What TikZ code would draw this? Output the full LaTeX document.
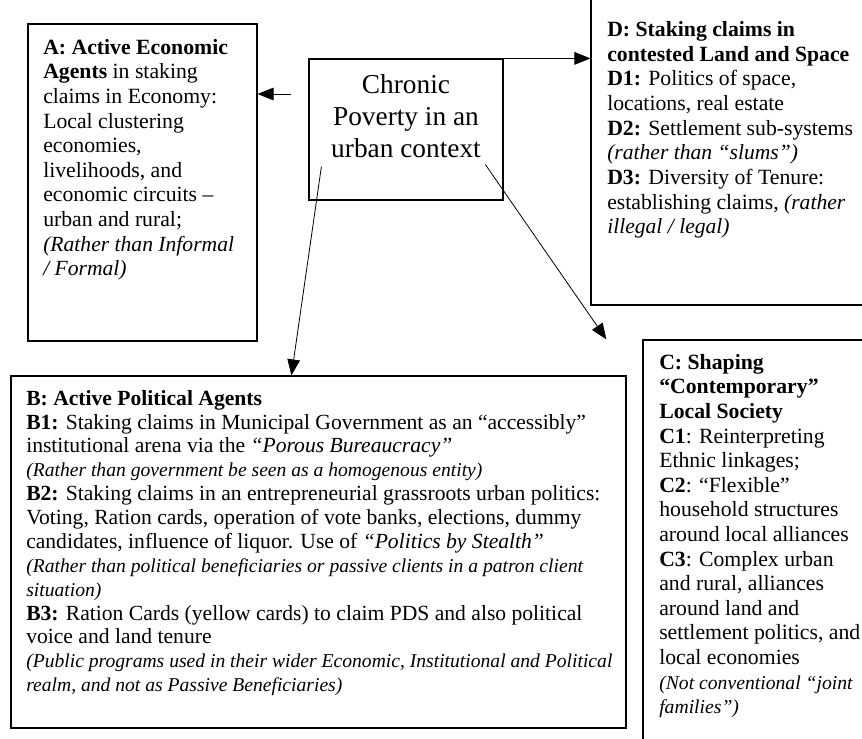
\documentclass[tikz,border=0pt]{standalone}
\usepackage{fontspec}
\setmainfont{Liberation Serif}
\usetikzlibrary{arrows.meta,fit,calc}
\newcommand\ctrfont{\fontsize{20.5pt}{23.8pt}\selectfont}
\newcommand\parA[1]{{\fontsize{16.2pt}{18.45pt}\selectfont\itshape #1}}
\newcommand\parB[1]{{\fontsize{14.7pt}{17.9pt}\selectfont\itshape #1}}
\newcommand\parC[1]{{\fontsize{14.75pt}{18.45pt}\selectfont\itshape #1}}
\newcommand\parD[1]{{\fontsize{16.2pt}{18.5pt}\selectfont\itshape #1}}
\begin{document}
\begin{tikzpicture}[x=0.75pt,y=-0.75pt,
  box/.style={draw, line width=0.9pt, inner sep=0pt},
  txt/.style={anchor=north west, inner sep=0pt, align=left},
  conn/.style={line width=0.6pt, -{Triangle[length=12pt,width=9.5pt]}}]
\path[use as bounding box, clip] (0,0) rectangle (862,738);
% boxes
\node[box, fit={(28,24) (257,341)}] (boxA) {};
\node[box, fit={(309,59) (503,200)}] (ctr) {};
\node[box, fit={(591,-20) (880,305)}] (boxD) {};
\node[box, fit={(11,376) (626,728)}] (boxB) {};
\node[box, fit={(643,340) (880,760)}] (boxC) {};
% texts
\node[anchor=center, inner sep=0pt, align=center, font=\ctrfont] (ctrtxt) at (406,116)
  {Chronic\\Poverty in an\\urban context};
\node[txt, font=\fontsize{16.3pt}{18.45pt}\selectfont] (txtA) at (43,39) {%
\textbf{A: Active Economic}\\
\textbf{Agents} in staking\\
claims in Economy:\\
Local clustering\\
economies,\\
livelihoods, and\\
economic circuits –\\
urban and rural;\\
\parA{(Rather than Informal}\\
\parA{/ Formal)}};
\node[txt, font=\fontsize{16.3pt}{18.5pt}\selectfont] (txtD) at (607,21) {%
\textbf{D: Staking claims in}\\
\textbf{contested Land and Space}\\
\textbf{D1:} Politics of space,\\
locations, real estate\\
\textbf{D2:} Settlement sub-systems\\
\parD{(rather than “slums”)}\\
\textbf{D3:} Diversity of Tenure:\\
establishing claims, \parD{(rather}\\
\parD{illegal / legal)}};
\node[txt, font=\fontsize{16.2pt}{17.9pt}\selectfont] (txtB) at (26,390) {%
\textbf{B: Active Political Agents}\\
\textbf{B1:} Staking claims in Municipal Government as an “accessibly”\\
institutional arena via the \textit{“Porous Bureaucracy”}\\
\parB{(Rather than government be seen as a homogenous entity)}\\
\textbf{B2:} Staking claims in an entrepreneurial grassroots urban politics:\\
Voting, Ration cards, operation of vote banks, elections, dummy\\
candidates, influence of liquor. Use of \textit{“Politics by Stealth”}\\
\parB{(Rather than political beneficiaries or passive clients in a patron client}\\
\parB{situation)}\\
\textbf{B3:} Ration Cards (yellow cards) to claim PDS and also political\\
voice and land tenure\\
\parB{(Public programs used in their wider Economic, Institutional and Political}\\
\parB{realm, and not as Passive Beneficiaries)}};
\node[txt, font=\fontsize{16.3pt}{18.45pt}\selectfont] (txtC) at (659,354) {%
\textbf{C: Shaping}\\
\textbf{“Contemporary”}\\
\textbf{Local Society}\\
\textbf{C1}: Reinterpreting\\
Ethnic linkages;\\
\textbf{C2}: “Flexible”\\
household structures\\
around local alliances\\
\textbf{C3}: Complex urban\\
and rural, alliances\\
around land and\\
settlement politics, and\\
local economies\\
\parC{(Not conventional “joint}\\
\parC{families”)}};
% connectors
\coordinate (sA) at ($(ctr.west)+(-17,-35.5)$);
\coordinate (sD) at ($(ctr.north)+(80,0)$);
\coordinate (sB) at ($(ctr.south west)+(13,-34)$);
\coordinate (sC) at ($(ctr.south west)+(177,-36)$);
\coordinate (eB) at ($(boxB.north west)+(281,0)$);
\coordinate (eC) at ($(boxC.north west)+(-36,0)$);
\draw[conn] (sA) -- (sA -| boxA.east);
\draw[conn] (sD) -- (sD -| boxD.west);
\draw[conn] (sB) -- (eB);
\draw[conn] (sC) -- (eC);
\end{tikzpicture}
\end{document}
